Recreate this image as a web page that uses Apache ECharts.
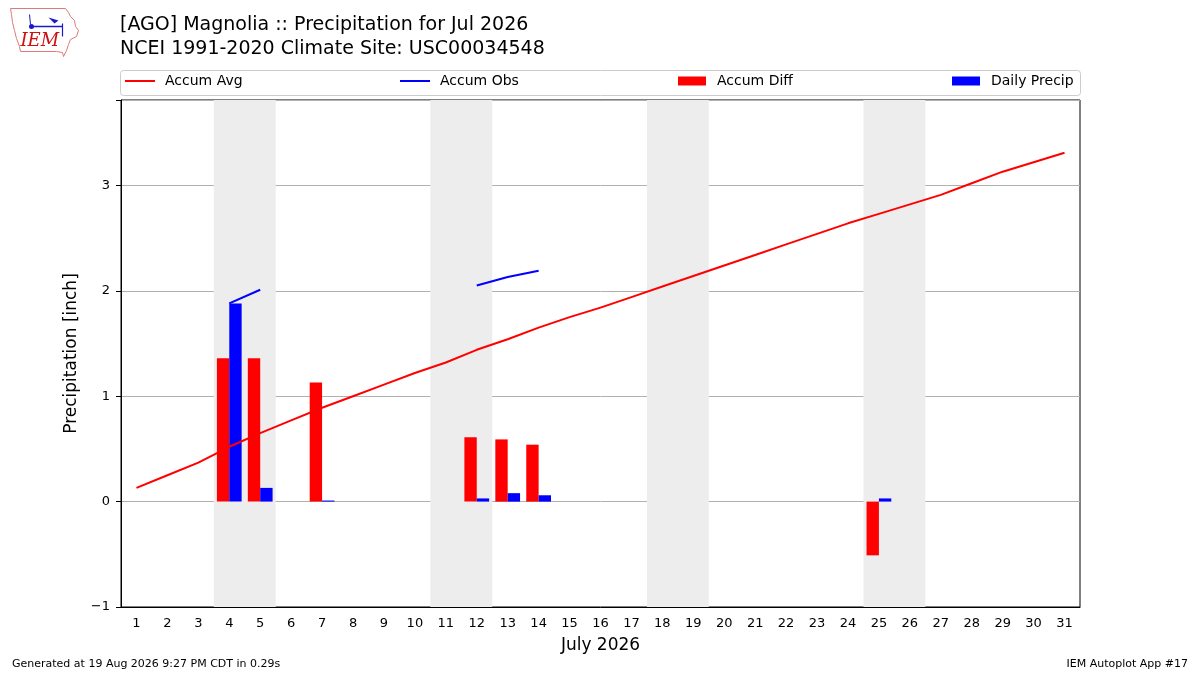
<!DOCTYPE html>
<html>
<head>
<meta charset="utf-8">
<script src="https://cdn.jsdelivr.net/npm/echarts@6/dist/echarts.min.js"></script>
<style>
html,body{margin:0;padding:0;background:#fff;}
#chart{width:1200px;height:675px;}
</style>
</head>
<body>
<div id="chart"></div>
<script>
// ---- data ----
const days = ['1','2','3','4','5','6','7','8','9','10','11','12','13','14','15','16','17','18','19','20','21','22','23','24','25','26','27','28','29','30','31'];
const accumAvg = [0.13,0.25,0.37,0.52,0.65,0.77,0.89,1.00,1.11,1.22,1.32,1.44,1.54,1.65,1.75,1.84,1.94,2.04,2.14,2.24,2.34,2.44,2.54,2.64,2.73,2.82,2.91,3.02,3.13,3.22,3.31];
const accumObs = [null,null,null,1.88,2.01,null,null,null,null,null,null,2.05,2.13,2.19,null,null,null,null,null,null,null,null,null,null,null,null,null,null,null,null,null];
const accumDiff = [null,null,null,1.36,1.36,null,1.13,null,null,null,null,0.61,0.59,0.54,null,null,null,null,null,null,null,null,null,null,-0.51,null,null,null,null,null,null];
const dailyPrecip = [null,null,null,1.88,0.13,null,0.01,null,null,null,null,0.03,0.08,0.06,null,null,null,null,null,null,null,null,null,null,0.03,null,null,null,null,null,null];
const weekendSaturdays = [4, 11, 18, 25];
const yTicks = [-1, 0, 1, 2, 3];

const FONT = 'DejaVu Sans';
const chart = echarts.init(document.getElementById('chart'), null, {renderer:'canvas'});

const shade = weekendSaturdays.map(d => [{xAxis: d - 0.5}, {xAxis: d + 1.5}]);

function legendAt(name, left, isLine) {
  return {
    data: [name], left: left, top: 74, padding: 0,
    itemWidth: isLine ? 30 : 28, itemHeight: isLine ? 2 : 9,
    icon: 'rect',
    textStyle: {fontFamily: FONT, fontSize: 14, color: '#000', padding: [0,0,0, isLine ? 5 : 6]},
    selectedMode: false
  };
}

const option = {
  animation: false,
  backgroundColor: '#fff',
  title: {
    text: '[AGO] Magnolia :: Precipitation for Jul 2026\nNCEI 1991-2020 Climate Site: USC00034548',
    left: 120, top: 13, padding: 0,
    textStyle: {fontFamily: FONT, fontSize: 19, fontWeight: 'normal', color: '#000', lineHeight: 24}
  },
  legend: [
    legendAt('Accum Avg', 125, true),
    legendAt('Accum Obs', 400, true),
    legendAt('Accum Diff', 678, false),
    legendAt('Daily Precip', 952, false)
  ],
  grid: {left: 121, right: 120, top: 100, bottom: 68, show: true, borderColor: '#000', borderWidth: 1, backgroundColor: 'transparent'},
  xAxis: [{
    type: 'category', data: days, boundaryGap: true,
    name: 'July 2026', nameLocation: 'middle', nameGap: 30,
    nameTextStyle: {fontFamily: FONT, fontSize: 17, color: '#000'},
    axisLine: {onZero: false, lineStyle: {color: '#000'}},
    axisTick: {alignWithLabel: true, interval: 0, length: 5, lineStyle: {color: '#000'}},
    axisLabel: {interval: 0, fontFamily: FONT, fontSize: 13, color: '#000', margin: 10},
    splitLine: {show: false}
  }, {
    type: 'value', min: 0.5, max: 31.5, show: false
  }],
  yAxis: {
    type: 'value', min: -1, max: 3.81, interval: 1,
    name: 'Precipitation [inch]', nameLocation: 'middle', nameGap: 34, nameRotate: 90,
    nameTextStyle: {fontFamily: FONT, fontSize: 17, color: '#000'},
    axisLine: {show: true, lineStyle: {color: '#000'}},
    axisTick: {show: true, length: 5, lineStyle: {color: '#000'}},
    axisLabel: {fontFamily: FONT, fontSize: 13, color: '#000', margin: 11,
      formatter: v => yTicks.indexOf(Math.round(v*100)/100) >= 0 ? (v < 0 ? '\u2212' + Math.abs(v) : String(v)) : ''},
    splitLine: {show: true, lineStyle: {color: '#b0b0b0', width: 1}}
  },
  series: [
    {
      type: 'line', xAxisIndex: 1, data: [[0.5, -1], [31.5, -1]], silent: true,
      showSymbol: false, lineStyle: {opacity: 0}, z: -1,
      markArea: {silent: true, itemStyle: {color: '#ededed'}, data: shade}
    },
    {name: 'Accum Diff', type: 'bar', data: accumDiff, barWidth: '40%', barGap: '0%', itemStyle: {color: '#ff0000'}},
    {name: 'Daily Precip', type: 'bar', data: dailyPrecip, barWidth: '40%', barGap: '0%', itemStyle: {color: '#0000ff'}},
    {name: 'Accum Avg', type: 'line', data: accumAvg, showSymbol: false, lineStyle: {color: '#ff0000', width: 2}, itemStyle: {color: '#ff0000'}},
    {name: 'Accum Obs', type: 'line', data: accumObs, showSymbol: false, connectNulls: false, lineStyle: {color: '#0000ff', width: 2}, itemStyle: {color: '#0000ff'}}
  ],
  graphic: [
    {type: 'rect', z: -10, shape: {x: 120.5, y: 70.5, width: 960, height: 25, r: 3}, style: {fill: '#fff', stroke: '#cccccc', lineWidth: 1}},
    {type: 'text', left: 12, top: 659, style: {text: 'Generated at 19 Aug 2026 9:27 PM CDT in 0.29s', font: '11px "DejaVu Sans"', fill: '#000'}},
    {type: 'text', right: 12, top: 659, style: {text: 'IEM Autoplot App #17', font: '11px "DejaVu Sans"', fill: '#000'}},
    {type: 'group', left: 8, top: 6, children: [
      {type: 'polyline', shape: {points: [[2,2],[57,2],[60,6],[62,10],[66,14],[67,20],[70,24],[68,30],[62,33],[60,38],[58,44],[55,50],[54,46],[48,45],[12,45],[11,40],[8,32],[6,24],[4,16],[3,8],[2,2]]}, style: {stroke: '#e07878', lineWidth: 1, fill: 'none'}},
      {type: 'text', x: 12, y: 26, style: {text: 'IEM', font: 'italic 18px "DejaVu Serif"', fill: '#cc1111'}},
      {type: 'circle', shape: {cx: 23, cy: 20, r: 2.5}, style: {fill: '#1a1acc'}},
      {type: 'line', shape: {x1: 23, y1: 20, x2: 54, y2: 20}, style: {stroke: '#1a1acc', lineWidth: 1.5}},
      {type: 'line', shape: {x1: 21, y1: 8, x2: 22, y2: 18}, style: {stroke: '#1a1acc', lineWidth: 1}},
      {type: 'polygon', shape: {points: [[40,11],[50,14],[46,17]]}, style: {fill: '#1a1acc'}},
      {type: 'line', shape: {x1: 54, y1: 17, x2: 54, y2: 30}, style: {stroke: '#1a1acc', lineWidth: 1.2}}
    ]}
  ]
};
chart.setOption(option);
</script>
</body>
</html>
